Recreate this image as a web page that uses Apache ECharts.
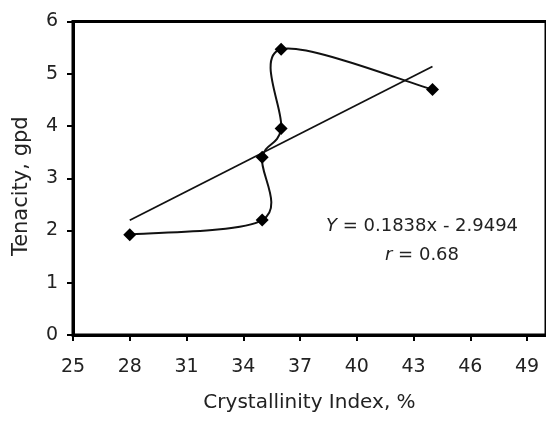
<!DOCTYPE html>
<html>
<head>
<meta charset="utf-8">
<script src="https://cdn.jsdelivr.net/npm/echarts@6/dist/echarts.min.js"></script>
<style>
  html, body { margin: 0; padding: 0; background: #fff; }
  #chart { width: 546px; height: 423px; }
</style>
</head>
<body>
<div id="chart"></div>
<script>
// Crystallinity index (%) vs. tenacity (gpd) measurements
const crystallinity = [28, 35, 35, 36, 36, 44];
const tenacity = [1.92, 2.2, 3.4, 3.95, 5.47, 4.7];

// Linear fit reported on the chart
const fitSlope = 0.1838;
const fitIntercept = -2.9494;
const fitRange = [28, 44];
const fitR = 0.68;

// Axis tick labels
const xTicks = [25, 28, 31, 34, 37, 40, 43, 46, 49];
const yTicks = [0, 1, 2, 3, 4, 5, 6];

const measured = crystallinity.map((x, i) => [x, tenacity[i]]);
const fitLine = fitRange.map(x => [x, fitSlope * x + fitIntercept]);

const FONT = 'DejaVu Sans';
const TXT = '#222';

// Smoothed connector: one cubic Bezier per segment, Catmull-Rom style
// tangents computed in pixel space from the neighbouring points.
function renderSmoothSegment(params, api) {
  const i = params.dataIndex;
  const n = measured.length;
  if (i >= n - 1) return null;
  const p = k => api.coord(measured[Math.max(0, Math.min(n - 1, k))]);
  const p0 = p(i - 1), p1 = p(i), p2 = p(i + 1), p3 = p(i + 2);
  const t = 1 / 6;
  const c1 = [p1[0] + (p2[0] - p0[0]) * t, p1[1] + (p2[1] - p0[1]) * t];
  const c2 = [p2[0] - (p3[0] - p1[0]) * t, p2[1] - (p3[1] - p1[1]) * t];
  return {
    type: 'bezierCurve',
    shape: {
      x1: p1[0], y1: p1[1], x2: p2[0], y2: p2[1],
      cpx1: c1[0], cpy1: c1[1], cpx2: c2[0], cpy2: c2[1]
    },
    style: { stroke: '#111', lineWidth: 2, fill: null }
  };
}

const chart = echarts.init(document.getElementById('chart'), null, { renderer: 'canvas' });
chart.setOption({
  animation: false,
  backgroundColor: '#fff',
  grid: {
    left: 73, top: 21.5, right: -13.5, bottom: 88,
    show: true, borderColor: '#000', borderWidth: 3, backgroundColor: 'transparent'
  },
  xAxis: {
    type: 'value',
    min: 25, max: 50,
    name: 'Crystallinity Index, %',
    nameLocation: 'middle',
    nameGap: 58,
    nameTextStyle: { fontFamily: FONT, fontSize: 20, color: TXT },
    axisLine: { lineStyle: { color: '#000', width: 3 } },
    axisTick: { show: true, length: 6, customValues: xTicks, lineStyle: { color: '#000', width: 2 } },
    axisLabel: { customValues: xTicks, margin: 23, fontFamily: FONT, fontSize: 19, color: TXT },
    splitLine: { show: false }
  },
  yAxis: {
    type: 'value',
    min: 0, max: 6, interval: 1,
    name: 'Tenacity, gpd',
    nameLocation: 'middle',
    nameGap: 41,
    nameTextStyle: { fontFamily: FONT, fontSize: 21, color: TXT, padding: [0, 16, 0, 0] },
    axisLine: { show: true, lineStyle: { color: '#000', width: 3 } },
    axisTick: { show: true, length: 6, lineStyle: { color: '#000', width: 2 } },
    axisLabel: {
      margin: 15, fontFamily: FONT, fontSize: 19, color: TXT,
      formatter: v => yTicks.includes(v) ? String(v) : ''
    },
    splitLine: { show: false }
  },
  series: [
    {
      type: 'custom',
      renderItem: renderSmoothSegment,
      data: measured,
      z: 3
    },
    {
      type: 'scatter',
      data: measured,
      symbol: 'diamond',
      symbolSize: 13,
      itemStyle: { color: '#000', opacity: 1 },
      z: 4
    },
    {
      type: 'line',
      data: fitLine,
      symbol: 'none',
      lineStyle: { color: '#111', width: 1.8 },
      z: 2
    }
  ],
  graphic: [
    {
      type: 'text',
      left: 326, top: 217,
      style: {
        text: '{i|Y} = 0.1838x - 2.9494',
        font: '18px "DejaVu Sans"',
        fill: TXT,
        rich: { i: { fontStyle: 'italic', fontFamily: FONT, fontSize: 18, fill: TXT } }
      }
    },
    {
      type: 'text',
      left: 385, top: 246,
      style: {
        text: '{i|r} = ' + fitR.toFixed(2),
        font: '18px "DejaVu Sans"',
        fill: TXT,
        rich: { i: { fontStyle: 'italic', fontFamily: FONT, fontSize: 18, fill: TXT } }
      }
    }
  ]
});
</script>
</body>
</html>
